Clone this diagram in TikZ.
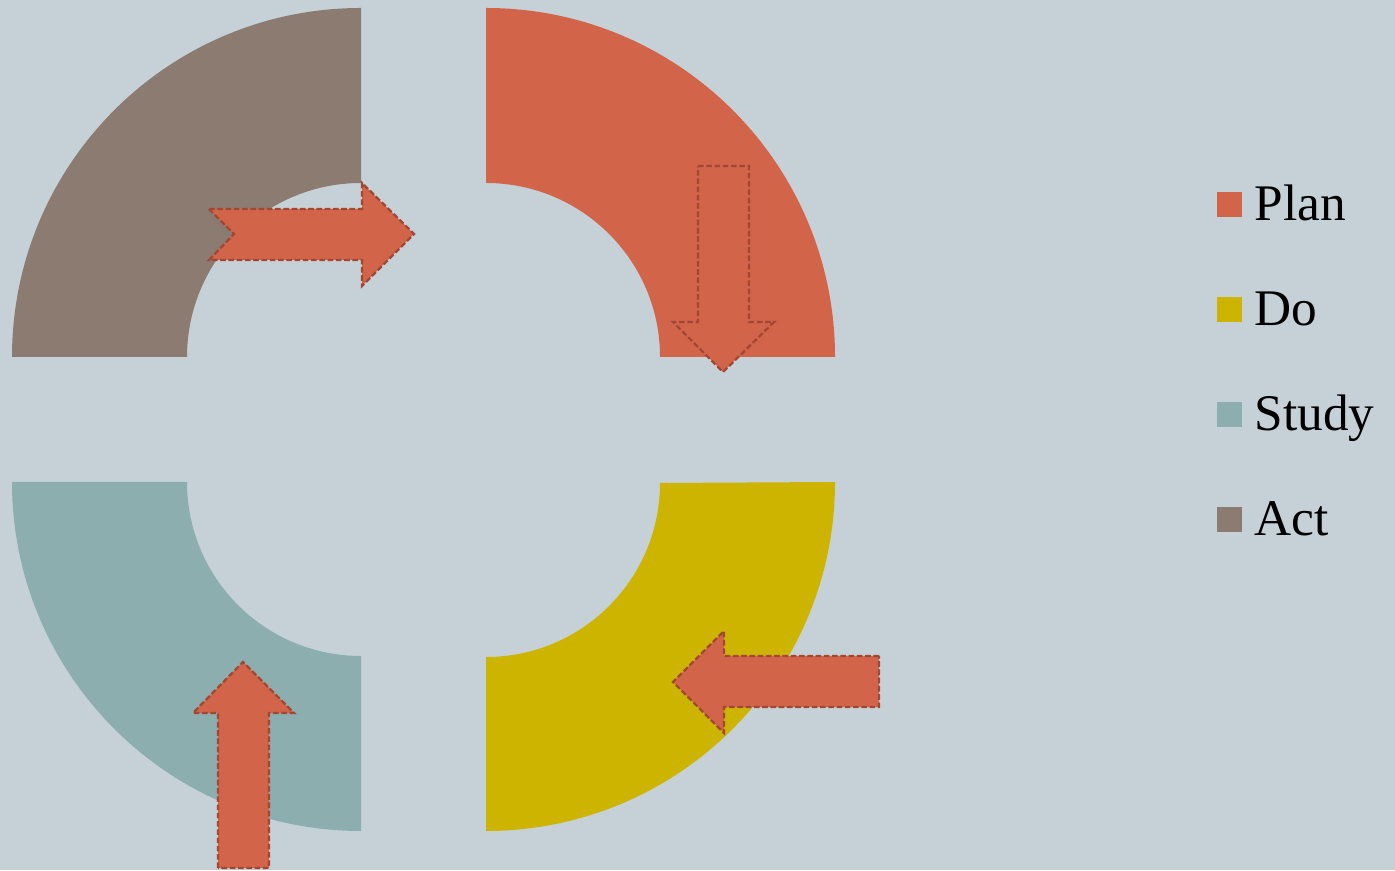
\documentclass[tikz,border=0pt]{standalone}
\usepackage{fontspec}
\setmainfont{Liberation Serif}
\usepackage{xcolor}
\usepackage{tikz}
\usetikzlibrary{positioning}
\definecolor{bgc}{RGB}{197,209,215}
\definecolor{planc}{RGB}{210,100,74}
\definecolor{doc}{RGB}{205,180,0}
\definecolor{studyc}{RGB}{141,174,174}
\definecolor{actc}{RGB}{139,123,112}
\definecolor{edgec}{RGB}{160,72,52}

\begin{document}
\begin{tikzpicture}[x=0.01cm,y=0.01cm,
  arrowbox/.style={fill=planc,draw=edgec,line width=0.65pt,dash pattern=on 1.6pt off 0.75pt},
  keybox/.style={minimum size=0.25cm,inner sep=0pt},
  keytext/.style={font=\fontsize{14.6}{16}\selectfont,anchor=base west,inner sep=0pt}]
  \def\ro{349}
  \def\ri{174}
  \fill[bgc] (0,0) rectangle (1395,870);
  \useasboundingbox (0,0) rectangle (1395,870);
  % quarter rings: act (top left), plan (top right), do, study
  \fill[actc] (12,513) arc[start angle=180,end angle=90,radius=\ro]
    -- (361,687) arc[start angle=90,end angle=180,radius=\ri] -- cycle;
  \fill[planc] (486,862) arc[start angle=90,end angle=0,radius=\ro]
    -- (660,513) arc[start angle=0,end angle=90,radius=\ri] -- cycle;
  \fill[doc] (835,388) arc[start angle=0,end angle=-90,radius=\ro]
    -- (486,213) arc[start angle=-90,end angle=0,radius=\ri] -- cycle;
  \fill[studyc] (361,39) arc[start angle=-90,end angle=-180,radius=\ro]
    -- (187,388) arc[start angle=180,end angle=270,radius=\ri] -- cycle;
  % arrows between the quarters
  \filldraw[arrowbox] (209,661) -- (362,661) -- (362,687) -- (414,636)
    -- (362,584) -- (362,610) -- (209,610) -- (234,636) -- cycle;
  \filldraw[arrowbox] (698,704) -- (749,704) -- (749,548) -- (774,548)
    -- (723,498) -- (673,548) -- (698,548) -- cycle;
  \filldraw[arrowbox] (879,214) -- (724,214) -- (724,239) -- (673,188)
    -- (724,137) -- (724,163) -- (879,163) -- cycle;
  \filldraw[arrowbox] (218,2) -- (218,157) -- (193,157) -- (243,208)
    -- (294,157) -- (269,157) -- (269,2) -- cycle;
  % key
  \node[keybox,fill=planc] (plan) at (1229.5,665.5) {};
  \node[keytext] (plantext) at (1254,649) {Plan};
  \node[keybox,fill=doc] (do) at (1229.5,560.5) {};
  \node[keytext] (dotext) at (1254,544) {Do};
  \node[keybox,fill=studyc] (study) at (1229.5,455.5) {};
  \node[keytext] (studytext) at (1254,439) {Study};
  \node[keybox,fill=actc] (act) at (1229.5,350.5) {};
  \node[keytext] (acttext) at (1254,334) {Act};
\end{tikzpicture}
\end{document}
